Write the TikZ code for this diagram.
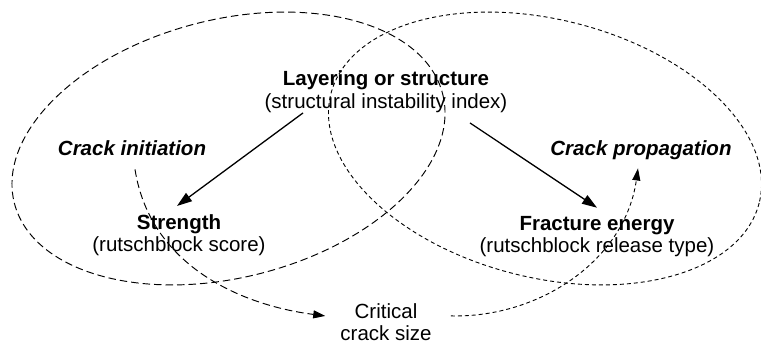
\documentclass[tikz,border=0pt]{standalone}
\usepackage{fontspec}
\setmainfont{Liberation Sans}
\usetikzlibrary{arrows.meta,calc}
\begin{document}
\begin{tikzpicture}[x=1pt,y=-1pt,
  every node/.style={inner sep=0pt, align=center, font=\fontsize{20.5}{22.5}\selectfont},
  process/.style={font=\fontsize{20.5}{22.5}\selectfont\bfseries\itshape},
  longdash/.style={line width=0.95pt, dash pattern=on 7.5pt off 4pt},
  shortdash/.style={line width=0.9pt, dash pattern=on 4pt off 3pt},
  link/.style={line width=1.3pt, -{Triangle[length=15pt,width=10pt]}},
  flow/.style={-{Triangle[length=12pt,width=8pt]}},
]
\useasboundingbox (0,0) rectangle (761,350);

% overlapping domains of initiation and propagation
\draw[longdash, shift={(228.5,148.5)}, rotate=14.3] (0,0) ellipse [x radius=221, y radius=129];
\draw[shortdash, shift={(545,148.5)}, rotate=-14.3] (0,0) ellipse [x radius=221, y radius=129];

% labels (base anchor sits on the last line)
\node[anchor=base] (layer) at (386,108.5) {\textbf{Layering or structure}\\(structural instability index)};
\node[anchor=base] (strength) at (179,251.5) {\textbf{Strength}\\(rutschblock score)};
\node[anchor=base] (energy) at (597,252.5) {\textbf{Fracture energy}\\(rutschblock release type)};
\node[process, anchor=base] (init) at (132,156) {Crack initiation};
\node[process, anchor=base] (prop) at (641,156) {Crack propagation};
\node[anchor=base] (critical) at (386,340.5) {Critical\\crack size};

% causal links
\draw[link] ($(layer.south)+(-83,0)$) -- ($(strength.north)+(-2,-8)$);
\draw[link] ($(layer.south)+(84,10)$) -- ($(energy.north)+(0,-8)$);

% crack initiation and propagation paths
\draw[longdash, flow] ($(init.south)+(3,13)$) .. controls (150,265) and (240,305) .. ($(critical.west)+(-15,-6)$);
\draw[shortdash, flow] ($(critical.east)+(19,-6)$) .. controls (540,318) and (625,260) .. ($(prop.south)+(-3,8)$);
\end{tikzpicture}
\end{document}
